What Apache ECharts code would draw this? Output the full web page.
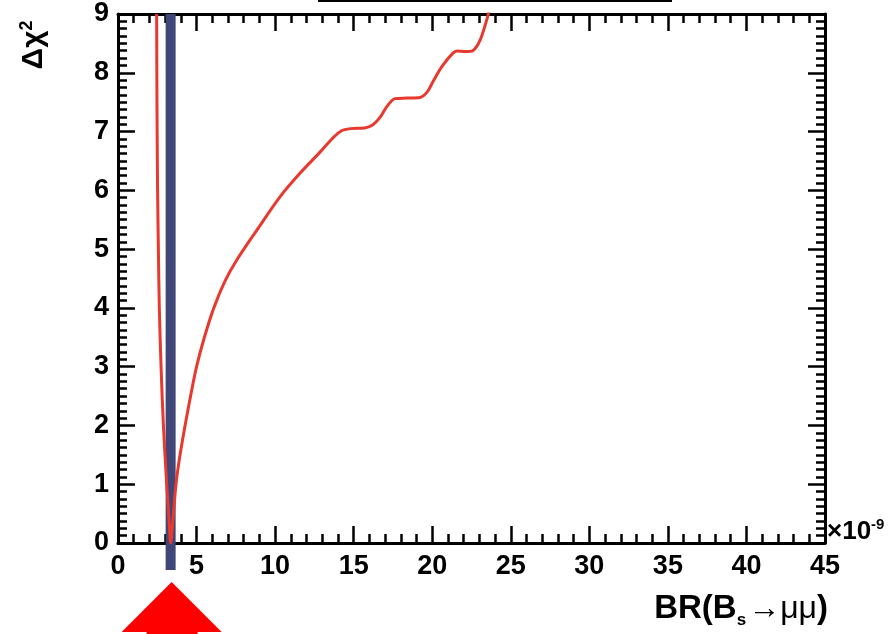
<!DOCTYPE html>
<html>
<head>
<meta charset="utf-8">
<script src="https://cdn.jsdelivr.net/npm/echarts@6/dist/echarts.min.js"></script>
<style>
  html, body { margin: 0; padding: 0; background: #fff; }
  #chart { width: 895px; height: 634px; }
</style>
</head>
<body>
<div id="chart"></div>
<script>
// Δχ² profile versus BR(Bs→μμ), in units of 1e-9
const brValues = [
  2.46, 2.48, 2.52, 2.57, 2.63, 2.74, 2.89, 3.10, 3.27, 3.35,
  3.50, 3.69, 3.95, 4.27, 4.62, 5.00, 5.50, 6.10, 6.80, 7.55,
  8.83, 10.31, 11.58, 12.86, 13.60, 14.20, 14.80, 15.70, 16.20, 16.70,
  17.10, 17.63, 18.40, 19.22, 19.70, 20.05, 20.60, 21.30, 21.60, 22.10,
  22.60, 23.04, 23.47, 23.62
];
const deltaChi2 = [
  9.00, 7.50, 6.00, 5.00, 4.00, 3.00, 2.00, 1.00, 0.30, 0.00,
  0.40, 1.00, 1.50, 2.00, 2.50, 3.00, 3.50, 4.00, 4.45, 4.81,
  5.32, 5.89, 6.29, 6.65, 6.87, 7.01, 7.05, 7.06, 7.11, 7.25,
  7.42, 7.56, 7.57, 7.58, 7.68, 7.85, 8.10, 8.33, 8.37, 8.36,
  8.38, 8.55, 8.90, 9.05
];

// best-fit value marker (vertical band), and its vertical extent
const bestFitBR = 3.35;
const bandRange = [-0.46, 9];

// axis ranges and tick labels
const xTickLabels = [0, 5, 10, 15, 20, 25, 30, 35, 40, 45];
const yTickLabels = [0, 1, 2, 3, 4, 5, 6, 7, 8, 9];

const FONT = '"Liberation Sans", Arial, Helvetica, sans-serif';

const curve = brValues.map((x, i) => [x, deltaChi2[i]]);
const band = bandRange.map(y => [bestFitBR, y]);

const tickStyle = { color: '#000', width: 2.5 };

function makeX(position, showLabels) {
  return {
    type: 'value',
    position: position,
    min: xTickLabels[0],
    max: xTickLabels[xTickLabels.length - 1],
    interval: xTickLabels[1] - xTickLabels[0],
    axisLine: { show: true, onZero: false, lineStyle: { color: '#000', width: 3 } },
    axisTick: { show: true, inside: true, length: 17, lineStyle: tickStyle },
    minorTick: { show: true, splitNumber: 5, length: 9, lineStyle: tickStyle },
    splitLine: { show: false },
    minorSplitLine: { show: false },
    axisLabel: {
      show: showLabels, margin: 10, color: '#000',
      fontSize: 27, fontWeight: 'bold', fontFamily: FONT
    }
  };
}

function makeY(position, showLabels) {
  return {
    type: 'value',
    position: position,
    min: yTickLabels[0],
    max: yTickLabels[yTickLabels.length - 1],
    interval: yTickLabels[1] - yTickLabels[0],
    axisLine: { show: true, onZero: false, lineStyle: { color: '#000', width: 3 } },
    axisTick: { show: true, inside: true, length: 17, lineStyle: tickStyle },
    minorTick: { show: true, splitNumber: 8, length: 9, lineStyle: tickStyle },
    splitLine: { show: false },
    minorSplitLine: { show: false },
    axisLabel: {
      show: showLabels, margin: 9, color: '#000',
      fontSize: 27, fontWeight: 'bold', fontFamily: FONT
    }
  };
}

const chart = echarts.init(document.getElementById('chart'), null, { renderer: 'canvas' });

chart.setOption({
  animation: false,
  backgroundColor: '#fff',
  grid: { left: 118, top: 14, right: 70, bottom: 91, containLabel: false },
  xAxis: [makeX('bottom', true), makeX('top', false)],
  yAxis: [makeY('left', true), makeY('right', false)],
  series: [
    {
      name: 'best fit',
      type: 'line',
      data: band,
      clip: false,
      symbol: 'none',
      silent: true,
      z: 2,
      lineStyle: { color: '#404778', width: 10, cap: 'butt' }
    },
    {
      name: 'Δχ²',
      type: 'line',
      data: curve,
      smooth: 0.3,
      symbol: 'none',
      silent: true,
      z: 3,
      lineStyle: { color: '#e8392f', width: 3 }
    }
  ],
  graphic: [
    // rule along the top edge
    {
      id: 'topRule', type: 'line', z: 10,
      shape: { x1: 318, y1: 1, x2: 672, y2: 1 },
      style: { stroke: '#000', lineWidth: 2 }
    },
    // y-axis title
    {
      id: 'yTitle', type: 'text', z: 10,
      x: 34, y: 45, rotation: Math.PI / 2,
      style: {
        text: 'Δχ{sup|2}',
        fill: '#000',
        font: 'bold 30px ' + FONT,
        align: 'center', verticalAlign: 'middle',
        rich: {
          sup: { fontSize: 18, fontWeight: 'bold', fontFamily: FONT, fill: '#000', verticalAlign: 'top', padding: [0, 0, 14, 0] }
        }
      }
    },
    // x-axis title
    {
      id: 'xTitle', type: 'text', z: 10,
      x: 828, y: 609,
      style: {
        text: '{a|BR(B}{s|s}{b|→μμ}{a|)}',
        align: 'right', verticalAlign: 'middle',
        rich: {
          a: { fontSize: 33, fontWeight: 'bold', fontFamily: FONT, fill: '#000' },
          s: { fontSize: 17, fontWeight: 'bold', fontFamily: FONT, fill: '#000', padding: [22, 2, 0, 0] },
          b: { fontSize: 32, fontWeight: 'normal', fontFamily: FONT, fill: '#000' }
        }
      }
    },
    // axis multiplier
    {
      id: 'xScale', type: 'text', z: 10,
      x: 827, y: 532,
      style: {
        text: '{m|×10}{e|-9}',
        align: 'left', verticalAlign: 'middle',
        rich: {
          m: { fontSize: 26, fontWeight: 'bold', fontFamily: FONT, fill: '#000' },
          e: { fontSize: 15, fontWeight: 'bold', fontFamily: FONT, fill: '#000', padding: [0, 0, 14, 0] }
        }
      }
    }
  ]
});

// red arrow under the best-fit band, placed from the band's value
const arrowX = chart.convertToPixel({ xAxisIndex: 0 }, bestFitBR) + 1;
chart.setOption({
  graphic: [
    {
      id: 'arrow', type: 'polygon', z: 10,
      shape: {
        points: [
          [arrowX, 582], [arrowX + 50, 632], [arrowX + 26, 632], [arrowX + 26, 640],
          [arrowX - 25, 640], [arrowX - 25, 632], [arrowX - 50, 632]
        ]
      },
      style: { fill: '#ff0000' }
    }
  ]
});
</script>
</body>
</html>
